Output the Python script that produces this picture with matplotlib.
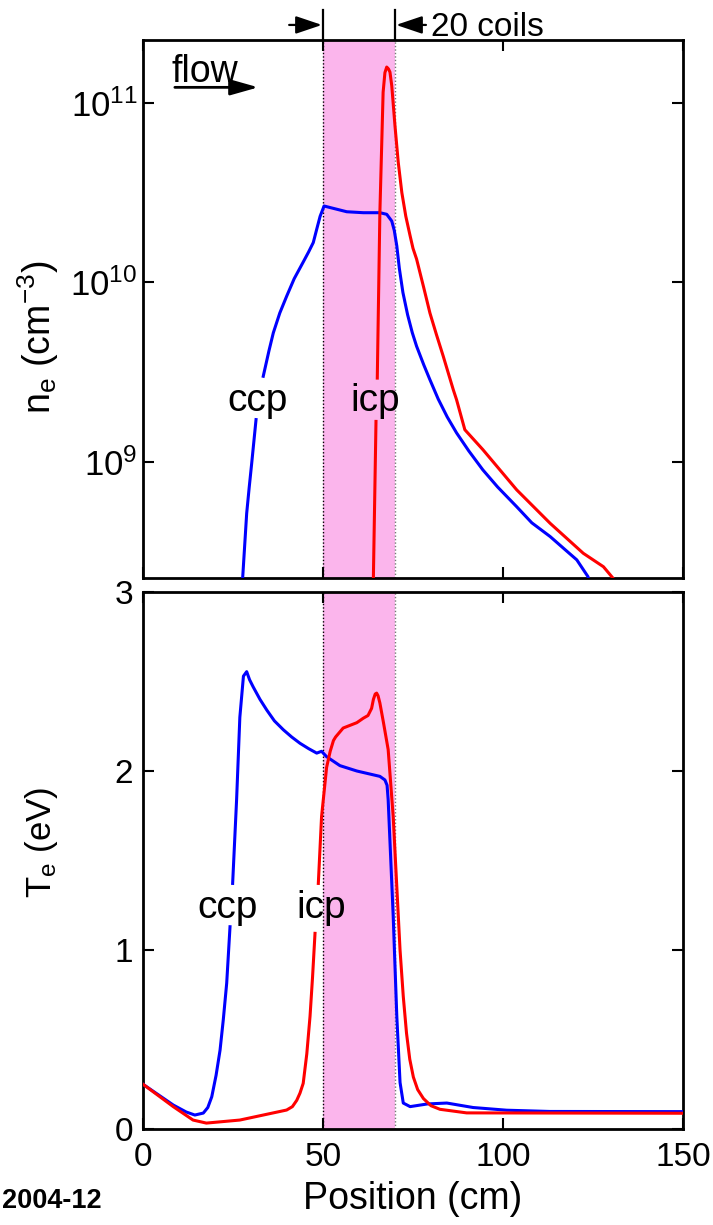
import numpy as np
import matplotlib
matplotlib.use("Agg")
import matplotlib.pyplot as plt
from matplotlib.ticker import LogLocator, NullLocator, LogFormatterSciNotation

plt.rcParams['font.family'] = ['Liberation Sans', 'DejaVu Sans']
plt.rcParams['mathtext.fontset'] = 'custom'
plt.rcParams['mathtext.rm'] = 'Liberation Sans'
plt.rcParams['mathtext.it'] = 'Liberation Sans:italic'
plt.rcParams['mathtext.bf'] = 'Liberation Sans:bold'

nan = float('nan')

# ---------------- data ----------------
# electron density (cm^-3) vs position (cm)
ccp_ne_pos = [27.3, 27.7, 28.8, 29.5, 30.2, 31.4, nan, 33.4, 35.0, 36.2, 38.0, 39.9, 42.0,
              44.5, 46.0, 47.3, 48.25, 49.2, 50.3, 51.9, 56.6, 61.2, 65.8, 67.7, 69.1,
              69.8, 70.5, 71.2, 72.2, 73.5, 74.8, 76.0, 78.0, 79.7, 82.0, 84.5, 87.1,
              90.5, 94.4, 98.5, 103.8, 108.0, 113.1, 117.0, 120.5, 123.6, 124.3]
ccp_ne = [1.66e8, 2.28e8, 5.16e8, 7.2e8, 9.84e8, 1.72e9, nan, 3.00e9, 4.17e9, 5.24e9,
          6.76e9, 8.38e9, 1.05e10, 1.30e10, 1.48e10, 1.67e10, 1.98e10, 2.34e10, 2.67e10,
          2.62e10, 2.48e10, 2.45e10, 2.45e10, 2.40e10, 2.20e10, 1.95e10, 1.60e10,
          1.20e10, 8.79e9, 6.61e9, 5.25e9, 4.41e9, 3.47e9, 2.87e9, 2.24e9, 1.78e9,
          1.45e9, 1.15e9, 9.02e8, 7.24e8, 5.62e8, 4.57e8, 3.83e8, 3.27e8, 2.84e8,
          2.29e8, 2.0e8]

icp_ne_pos = [63.8, 64.0, 64.72, nan, 65.08, 65.8, 66.7, 67.2, 67.7, 68.2, 68.6, 69.1,
              70.0, 70.9, 71.9, 73.0, 74.2, 75.0, 76.0, 78.0, 79.7, 81.5, 83.4, 86.2,
              87.1, 89.4, 94.4, 103.8, 113.1, 122.3, 127.9, 130.6, 131.1]
icp_ne = [1.66e8, 2.29e8, 1.68e9, nan, 2.93e9, 2.46e10, 1.15e11, 1.48e11, 1.59e11, 1.55e11,
          1.49e11, 1.25e11, 7.46e10, 4.68e10, 3.17e10, 2.34e10, 1.82e10, 1.55e10,
          1.35e10, 9.33e9, 6.76e9, 5.13e9, 3.88e9, 2.52e9, 2.22e9, 1.51e9, 1.17e9,
          6.98e8, 4.54e8, 3.09e8, 2.60e8, 2.24e8, 1.93e8]

# electron temperature (eV) vs position (cm)
ccp_te_pos = [0, 8.4, 12.0, 14.4, 16.75, 18.0, 19.1, 20.3, 21.4, 22.3, 23.25, 24.17, nan,
              24.9, 26.0, 26.9, 27.9, 28.8, 29.6, 30.6, 32.5, 34.4, 36.5, 39.0, 41.3,
              43.6, 46.0, 48.25, 49.6, 51.0, 54.7, 59.4, 65.8, 67.2, 67.8, 68.1, 69.5,
              70.5, 71.4, 72.3, 74.2, 79.0, 84.4, 91.7, 101.0, 113.0, 150.0]
ccp_te = [0.25, 0.134, 0.095, 0.078, 0.089, 0.12, 0.18, 0.30, 0.44, 0.61, 0.815, 1.13, nan,
          1.372, 1.84, 2.30, 2.53, 2.555, 2.51, 2.47, 2.40, 2.34, 2.28, 2.23, 2.19,
          2.155, 2.125, 2.10, 2.11, 2.08, 2.03, 2.00, 1.97, 1.95, 1.92, 1.84, 1.19,
          0.63, 0.26, 0.145, 0.125, 0.14, 0.145, 0.12, 0.105, 0.098, 0.097]

icp_te_pos = [0, 8.4, 13.9, 17.6, 26.9, 39.9, 41.5, 42.7, 43.6, 44.5, 45.5, 46.4, 47.1,
              47.78, nan, 48.7, 49.6, 51.0, 52.0, 52.9, 53.5, 55.6, 57.5, 59.4, 61.2,
              62.5, 63.5, 64.0, 64.5, 64.9, 65.3, 65.8, 66.8, 68.1, 69.5, 71.4, 72.3,
              73.2, 74.1, 75.1, 76.3, 77.9, 80.0, 82.5, 89.9, 150.0]
icp_te = [0.25, 0.125, 0.05, 0.033, 0.05, 0.106, 0.125, 0.16, 0.20, 0.255, 0.42, 0.63, 0.85,
          1.093, nan, 1.372, 1.745, 2.02, 2.11, 2.17, 2.19, 2.24, 2.255, 2.27, 2.295,
          2.31, 2.35, 2.40, 2.43, 2.435, 2.42, 2.38, 2.27, 2.12, 1.745, 1.0, 0.74,
          0.535, 0.39, 0.29, 0.22, 0.17, 0.13, 0.11, 0.09, 0.088]

coil_region = (50, 70)
x_ticks = [0, 50, 100, 150]
te_ticks = [0, 1, 2, 3]

# ---------------- figure ----------------
W, H = 713, 1225
fig = plt.figure(figsize=(W / 100, H / 100), dpi=100)
L, R = 143, 683
ax1 = fig.add_axes([L / W, 1 - 578 / H, (R - L) / W, (578 - 40) / H])
ax2 = fig.add_axes([L / W, 1 - 1129 / H, (R - L) / W, (1129 - 592) / H])

pink = '#FBB5EC'
blue = '#0000FF'
red = '#FF0000'
lw = 2.2

for ax in (ax1, ax2):
    ax.axvspan(*coil_region, color=pink, lw=0, zorder=0)
    ax.axvline(coil_region[0], color='black', ls=(0, (1, 1.5)), lw=1.0, zorder=1)
    ax.axvline(coil_region[1], color='#777777', ls=(0, (1, 1.5)), lw=1.0, zorder=1)
    ax.set_xlim(0, 150)
    ax.set_xticks(x_ticks)
    ax.tick_params(direction='in', top=True, right=True, length=8, width=1.5,
                   labelsize=24)
    for s in ax.spines.values():
        s.set_linewidth(2.0)

# top panel
ax1.plot(ccp_ne_pos, ccp_ne, color=blue, lw=lw, zorder=3, solid_joinstyle='round')
ax1.plot(icp_ne_pos, icp_ne, color=red, lw=lw, zorder=3, solid_joinstyle='round')
ax1.set_yscale('log')
ax1.set_ylim(2.25e8, 2.25e11)
ax1.yaxis.set_major_locator(LogLocator(base=10, numticks=10))
ax1.yaxis.set_minor_locator(NullLocator())
ax1.yaxis.set_major_formatter(LogFormatterSciNotation())
ax1.tick_params(axis='x', labelbottom=False)
ax1.tick_params(axis='y', pad=4, labelsize=25)

# bottom panel
ax2.plot(ccp_te_pos, ccp_te, color=blue, lw=lw, zorder=3, solid_joinstyle='round')
ax2.plot(icp_te_pos, icp_te, color=red, lw=lw, zorder=3, solid_joinstyle='round')
ax2.set_ylim(0, 3)
ax2.set_yticks(te_ticks)
ax2.tick_params(axis='y', pad=7)
ax2.tick_params(axis='x', pad=9)

# curve labels
lab_fs = 28
ax1.text(31.8, 1.93e9, 'ccp', fontsize=lab_fs, ha='center', va='baseline', zorder=4)
ax1.text(64.6, 1.93e9, 'icp', fontsize=lab_fs, ha='center', va='baseline', zorder=4)
ax2.text(23.6, 1.177, 'ccp', fontsize=lab_fs, ha='center', va='baseline', zorder=4)
ax2.text(49.4, 1.177, 'icp', fontsize=lab_fs, ha='center', va='baseline', zorder=4)

# flow arrow
tr = ax1.transAxes
ax1.text(0.053, 0.922, 'flow', fontsize=27, ha='left', va='baseline', transform=tr)
ax1.annotate('', xy=(0.2135, 0.912), xytext=(0.059, 0.912), xycoords=tr, textcoords=tr,
             arrowprops=dict(arrowstyle='-|>,head_length=0.85,head_width=0.24',
                             mutation_scale=20, lw=2.0, color='black',
                             shrinkA=0, shrinkB=0))

# coil markers above the top axes
xt = ax1.get_xaxis_transform()
ax1.plot([coil_region[0]] * 2, [1.0, 1.0558], color='black', lw=1.6, transform=xt, clip_on=False)
ax1.plot([coil_region[1]] * 2, [1.0, 1.0558], color='black', lw=1.6, transform=xt, clip_on=False)
ax1.annotate('', xy=(coil_region[0] - 0.3, 1.028), xytext=(40.6, 1.028), xycoords=xt,
             textcoords=xt, annotation_clip=False,
             arrowprops=dict(arrowstyle='-|>,head_length=0.8,head_width=0.27',
                             mutation_scale=20, lw=1.6, color='black',
                             shrinkA=0, shrinkB=0))
ax1.annotate('', xy=(coil_region[1] + 0.3, 1.028), xytext=(78.6, 1.028), xycoords=xt,
             textcoords=xt, annotation_clip=False,
             arrowprops=dict(arrowstyle='-|>,head_length=0.8,head_width=0.27',
                             mutation_scale=20, lw=1.6, color='black',
                             shrinkA=0, shrinkB=0))
ax1.text(80.0, 1.008, '20 coils', fontsize=24, ha='left', va='baseline', transform=xt)

# axis labels
fig.text(38 / W, 1 - 337 / H, r'n$_\mathregular{e}$ (cm$^\mathregular{-3}$)', fontsize=27,
         rotation=90, ha='center', va='center')
fig.text(41 / W, 1 - 842 / H, r'T$_\mathregular{e}$ (eV)', fontsize=25,
         rotation=90, ha='center', va='center')
fig.text(413 / W, 1 - 1199 / H, 'Position (cm)', fontsize=27, ha='center', va='center')
fig.text(2 / W, 1 - 1201 / H, '2004-12', fontsize=19.5, fontweight='bold', ha='left', va='center')

fig.savefig('out.png', dpi=100)
